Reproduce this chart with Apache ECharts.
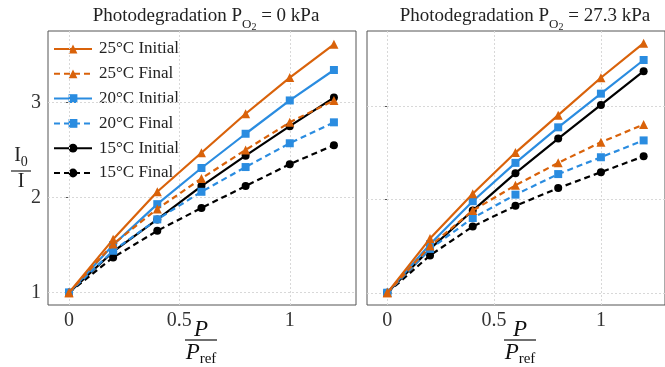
<!DOCTYPE html>
<html><head><meta charset="utf-8">
<script src="https://cdn.jsdelivr.net/npm/echarts@6/dist/echarts.min.js"></script>
<style>html,body{margin:0;padding:0;background:#fff}#c{width:665px;height:367px}</style>
</head><body><div id="c"></div>
<script>
const xVals = [0, 0.2, 0.4, 0.6, 0.8, 1.0, 1.2];
const seriesNames = ['25°C Initial', '25°C Final', '20°C Initial', '20°C Final', '15°C Initial', '15°C Final'];
// Left panel: P_O2 = 0 kPa
const init25_0  = [1, 1.56, 2.06, 2.47, 2.88, 3.26, 3.61];
const final25_0 = [1, 1.51, 1.88, 2.20, 2.50, 2.79, 3.02];
const init20_0  = [1, 1.50, 1.93, 2.31, 2.67, 3.02, 3.34];
const final20_0 = [1, 1.44, 1.77, 2.06, 2.32, 2.57, 2.79];
const init15_0  = [1, 1.43, 1.77, 2.12, 2.44, 2.75, 3.05];
const final15_0 = [1, 1.37, 1.65, 1.89, 2.12, 2.35, 2.55];
// Right panel: P_O2 = 27.3 kPa
const init25_27  = [1, 1.58, 2.06, 2.50, 2.90, 3.30, 3.67];
const final25_27 = [1, 1.50, 1.88, 2.15, 2.39, 2.61, 2.80];
const init20_27  = [1, 1.52, 1.98, 2.39, 2.77, 3.13, 3.49];
const final20_27 = [1, 1.47, 1.80, 2.05, 2.27, 2.45, 2.63];
const init15_27  = [1, 1.47, 1.88, 2.28, 2.65, 3.01, 3.37];
const final15_27 = [1, 1.40, 1.71, 1.93, 2.12, 2.29, 2.46];
const xTicks = [0, 0.5, 1];
const yTicks = [1, 2, 3];

const SERIF = '"Liberation Serif","DejaVu Serif",serif';
const ORANGE = '#d9620a', BLUE = '#2a8ce0', BLACK = '#000000';
const styles = [
  {color: ORANGE, symbol: 'triangle', dash: 'solid', size: 9},
  {color: ORANGE, symbol: 'triangle', dash: [6, 4], size: 9},
  {color: BLUE, symbol: 'rect', dash: 'solid', size: 8},
  {color: BLUE, symbol: 'rect', dash: [6, 4], size: 8},
  {color: BLACK, symbol: 'circle', dash: 'solid', size: 8},
  {color: BLACK, symbol: 'circle', dash: [6, 4], size: 8}
];
const leftData = [init25_0, final25_0, init20_0, final20_0, init15_0, final15_0];
const rightData = [init25_27, final25_27, init20_27, final20_27, init15_27, final15_27];

function pairs(arr) { return xVals.map((x, i) => [x, arr[i]]); }
const series = [];
[0, 1].forEach(gi => {
  // grid lines drawn through the axes' own scales
  series.push({
    name: 'grid' + gi, type: 'line', xAxisIndex: gi, yAxisIndex: gi, data: [], z: 1, silent: true,
    markLine: {
      silent: true, symbol: 'none', label: {show: false}, animation: false,
      lineStyle: {color: '#d8d8d8', type: [2, 2], width: 1},
      data: xTicks.map(v => ({xAxis: v})).concat(yTicks.map(v => ({yAxis: v})))
    }
  });
});
[leftData, rightData].forEach((set, gi) => {
  set.forEach((arr, i) => {
    const s = styles[i];
    series.push({
      name: seriesNames[i], type: 'line', xAxisIndex: gi, yAxisIndex: gi,
      data: pairs(arr), symbol: s.symbol, symbolSize: s.size, showSymbol: true,
      itemStyle: {color: s.color}, lineStyle: {color: s.color, width: 2.2, type: s.dash},
      emphasis: {disabled: true}, animation: false, z: 10 - i
    });
  });
});

function xAxis(gi) {
  return {
    type: 'value', gridIndex: gi, min: -0.095, max: 1.3,
    axisLine: {show: false}, axisTick: {show: false},
    axisLabel: {fontFamily: SERIF, fontSize: 20, color: '#333', margin: 6, customValues: xTicks,
      formatter: v => String(v)},
    splitLine: {show: false}
  };
}
function yAxis(gi, max, labels) {
  return {
    type: 'value', gridIndex: gi, min: 0.87, max: max,
    axisLine: {show: false},
    axisTick: {show: true, length: 3, lineStyle: {color: '#555'}, customValues: yTicks},
    axisLabel: {show: labels, fontFamily: SERIF, fontSize: 20, color: '#333', margin: 7, customValues: yTicks,
      formatter: v => String(v)},
    splitLine: {show: false}
  };
}
const titleRich = {
  a: {fontFamily: SERIF, fontSize: 19, fontWeight: 'normal', color: '#222', verticalAlign: 'bottom', padding: [0, 0, 6, 0]},
  s: {fontFamily: SERIF, fontSize: 13, fontWeight: 'normal', color: '#222', verticalAlign: 'bottom', padding: [0, 0, 1, 0]},
  t: {fontFamily: SERIF, fontSize: 10, fontWeight: 'normal', color: '#222', verticalAlign: 'bottom', padding: [0, 0, 0, 0]}
};
function fracX(cx) {
  return {
    type: 'group', x: cx, y: 318, children: [
      {type: 'text', x: 0, y: 0, style: {text: 'P', fontFamily: SERIF, fontStyle: 'italic', fontSize: 23, fill: '#111', align: 'center'}},
      {type: 'line', shape: {x1: -16, y1: 22, x2: 16, y2: 22}, style: {stroke: '#111', lineWidth: 1.2}},
      {type: 'text', x: 0, y: 23, style: {text: '{p|P}{r|ref}', align: 'center', rich: {
        p: {fontFamily: SERIF, fontStyle: 'italic', fontSize: 23, fill: '#111', verticalAlign: 'bottom'},
        r: {fontFamily: SERIF, fontSize: 15, fill: '#111', verticalAlign: 'bottom', padding: [0, 0, -3, 0]}}}}
    ]
  };
}
const option = {
  backgroundColor: '#fff',
  animation: false,
  title: [
    {left: 201, top: 2, textAlign: 'center', text: '{a|Photodegradation P}{s|O}{t|2}{a| = 0 kPa}', textStyle: {fontWeight: 'normal', rich: titleRich}},
    {left: 520, top: 2, textAlign: 'center', text: '{a|Photodegradation P}{s|O}{t|2}{a| = 27.3 kPa}', textStyle: {fontWeight: 'normal', rich: titleRich}}
  ],
  legend: {
    left: 48, top: 35, orient: 'vertical', itemWidth: 38, itemHeight: 11, itemGap: 6.8,
    data: seriesNames,
    textStyle: {fontFamily: SERIF, fontSize: 17, color: '#222', lineHeight: 18, padding: [0, 0, 0, 2]},
    selectedMode: false
  },
  grid: [
    {left: 48, top: 31, width: 308, height: 274, show: true, borderColor: '#555', borderWidth: 1},
    {left: 367, top: 31, width: 308, height: 274, show: true, borderColor: '#555', borderWidth: 1}
  ],
  xAxis: [xAxis(0), xAxis(1)],
  yAxis: [yAxis(0, 3.75, true), yAxis(1, 3.8, false)],
  series: series,
  graphic: [
    fracX(201), fracX(520),
    {type: 'group', x: 21, y: 146, children: [
      {type: 'text', x: 0, y: 0, style: {text: '{i|I}{z|0}', align: 'center', rich: {
        i: {fontFamily: SERIF, fontSize: 20, fill: '#222', verticalAlign: 'bottom'},
        z: {fontFamily: SERIF, fontSize: 14, fill: '#222', verticalAlign: 'bottom', padding: [0, 0, -3, 0]}}}},
      {type: 'line', shape: {x1: -10, y1: 25, x2: 10, y2: 25}, style: {stroke: '#222', lineWidth: 1.2}},
      {type: 'text', x: 0, y: 26, style: {text: 'I', align: 'center', fontFamily: SERIF, fontSize: 20, fill: '#222'}}
    ]}
  ]
};
const chart = echarts.init(document.getElementById('c'), null, {renderer: 'canvas'});
chart.setOption(option);
</script></body></html>
